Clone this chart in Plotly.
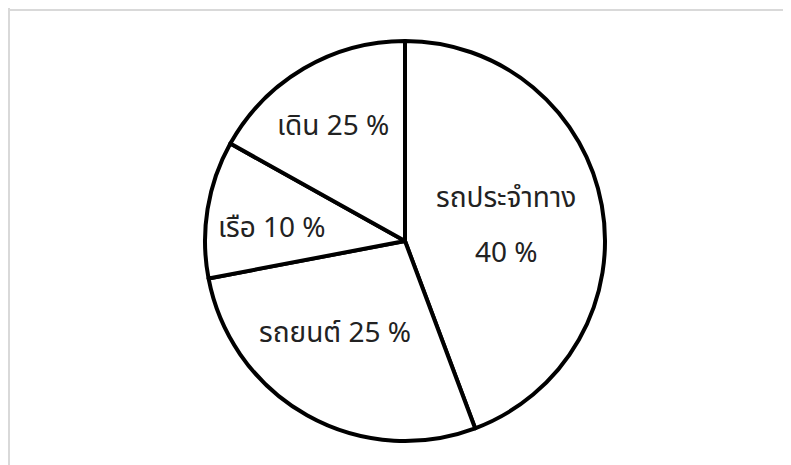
import plotly.graph_objects as go

# Slice shares as drawn (angles)
categories = ["รถประจำทาง", "รถยนต์", "เรือ", "เดิน"]
shares = [44.3, 27.7, 11.1, 16.9]
# Printed labels on the chart
printed_pct = ["40 %", "25 %", "10 %", "25 %"]

W, H = 791, 465
OFF = 8  # page body margin
FONT = "Tahoma, 'Noto Sans Thai', 'Noto Sans', sans-serif"


def px2x(px):
    return (px - OFF) / W


def py2y(py):
    return 1 - (py - OFF) / H


fig = go.Figure(go.Pie(
    labels=categories,
    values=shares,
    sort=False,
    direction="clockwise",
    rotation=0,
    marker=dict(colors=["white"] * 4, line=dict(color="black", width=4)),
    textinfo="none",
    hoverinfo="label",
    domain=dict(x=[px2x(205), px2x(605)], y=[py2y(441), py2y(41)]),
    showlegend=False,
))

# label anchor positions (pixels in the page)
label_pos = {
    "รถยนต์": (335, 333),
    "เรือ": (272, 228),
    "เดิน": (333, 127),
}
ann = []
ann.append(dict(text=categories[0], x=px2x(506), y=py2y(198)))
ann.append(dict(text=printed_pct[0], x=px2x(506), y=py2y(253)))
for c, p in zip(categories[1:], printed_pct[1:]):
    px, py = label_pos[c]
    ann.append(dict(text=f"{c} {p}", x=px2x(px), y=py2y(py)))
for a in ann:
    a.update(xref="paper", yref="paper", showarrow=False, xanchor="center", yanchor="middle",
             font=dict(family=FONT, size=28, color="#222222"))

fig.update_layout(
    width=W, height=H,
    margin=dict(l=0, r=0, t=0, b=0),
    paper_bgcolor="white", plot_bgcolor="white",
    annotations=ann,
    shapes=[
        dict(type="line", xref="paper", yref="paper", x0=0, x1=1, y0=1 - 2 / H, y1=1 - 2 / H,
             line=dict(color="#d9d9d9", width=2)),
        dict(type="line", xref="paper", yref="paper", x0=1 / W, x1=1 / W, y0=0, y1=1,
             line=dict(color="#d9d9d9", width=2)),
    ],
)

fig.write_html("out.html")
